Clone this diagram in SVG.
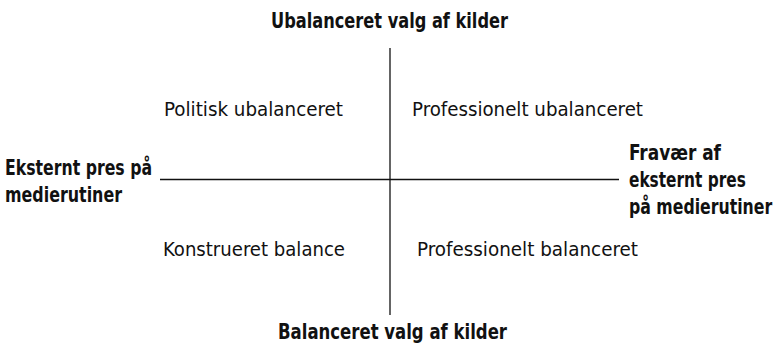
<svg xmlns="http://www.w3.org/2000/svg" width="779" height="351" viewBox="0 0 779 351">
<style>
text{font-family:"Liberation Sans Narrow","DejaVu Sans Condensed","Liberation Sans",sans-serif;font-stretch:condensed;fill:#111}
.b{font-weight:bold;font-size:21px}
.r{font-size:20px}
.ax{stroke:#111;stroke-width:1.3;fill:none}
</style>
<rect width="779" height="351" fill="#fff"/>
<g id="connectors">
<line class="ax" x1="390" y1="48" x2="390" y2="315"/>
<line class="ax" x1="160" y1="179.5" x2="619" y2="179.5"/>
</g>
<g id="top"><text class="b" x="271" y="28" textLength="237" lengthAdjust="spacingAndGlyphs">Ubalanceret valg af kilder</text></g>
<g id="bottom"><text class="b" x="278" y="339" textLength="229" lengthAdjust="spacingAndGlyphs">Balanceret valg af kilder</text></g>
<g id="left"><text class="b" x="5" y="175" textLength="147" lengthAdjust="spacingAndGlyphs">Eksternt pres på</text><text class="b" x="5" y="202" textLength="117" lengthAdjust="spacingAndGlyphs">medierutiner</text></g>
<g id="right" transform="translate(629,0) scale(0.8,1)"><text class="b" x="0" y="160" textLength="115" lengthAdjust="spacingAndGlyphs">Fravær af</text><text class="b" x="0" y="187" textLength="146" lengthAdjust="spacingAndGlyphs">eksternt pres</text><text class="b" x="0" y="214" textLength="179" lengthAdjust="spacingAndGlyphs">på medierutiner</text></g>
<g id="q1"><text class="r" x="164" y="116" textLength="179" lengthAdjust="spacingAndGlyphs">Politisk ubalanceret</text></g>
<g id="q2"><text class="r" x="412" y="116" textLength="231" lengthAdjust="spacingAndGlyphs">Professionelt ubalanceret</text></g>
<g id="q3"><text class="r" x="163" y="256" textLength="182" lengthAdjust="spacingAndGlyphs">Konstrueret balance</text></g>
<g id="q4"><text class="r" x="417" y="256" textLength="221" lengthAdjust="spacingAndGlyphs">Professionelt balanceret</text></g>
</svg>
